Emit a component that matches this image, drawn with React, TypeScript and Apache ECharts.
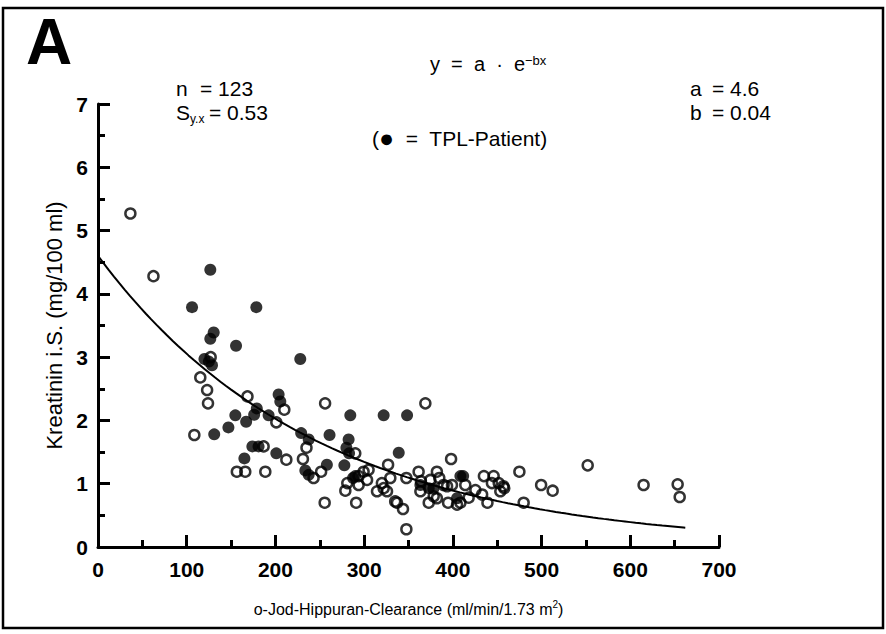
import React, { useEffect, useRef } from "react";
import * as echarts from "echarts";

const X_MIN = 0;
const X_MAX = 700;
const X_STEP = 100;
const Y_MIN = 0;
const Y_MAX = 7;
const Y_STEP = 1;

const FIT_A = 4.6;
const FIT_B = 0.0041;
const FIT_X_END = 662;

const filledX = [106, 178.5, 126.6, 130.4, 126.6, 155.6, 228, 120, 128.5, 125,
  203.6, 205.5, 179, 176, 154.8, 192.3, 167, 147, 131, 229,
  237.5, 174, 181, 201, 165, 258, 277.7, 233.7, 237.5, 261,
  284.4, 282.5, 280, 322, 348.4, 339, 290, 287.5, 363.4, 372.8,
  378, 408.5, 411.6, 404.7, 283];
const filledY = [3.79, 3.79, 4.38, 3.39, 3.29, 3.18, 2.97, 2.97, 2.87, 2.93,
  2.41, 2.30, 2.19, 2.09, 2.08, 2.08, 1.98, 1.89, 1.78, 1.80,
  1.70, 1.59, 1.59, 1.48, 1.40, 1.30, 1.29, 1.21, 1.14, 1.77,
  2.08, 1.70, 1.57, 2.08, 2.08, 1.49, 1.12, 1.09, 0.98, 0.93,
  0.92, 1.12, 1.12, 0.77, 1.48];

const openX = [36.5, 62.5, 115.3, 123, 124, 108.6, 127, 168.5, 210, 201,
  186.7, 212.3, 156.5, 166, 188.6, 256, 235, 231, 243, 251.5,
  255.5, 290, 278.8, 281, 291, 293.8, 299.4, 305, 293.8, 303.3,
  314.5, 320, 325.8, 329.5, 327, 337, 343.8, 347.6, 347.6, 361.4,
  363.4, 372.8, 382, 378.4, 389.6, 394.6, 399, 408.5, 414, 369,
  398, 374.6, 384.7, 393.5, 417.8, 425.4, 433, 439, 435, 446,
  444, 451.7, 457, 453.5, 458, 475, 499.5, 512.5, 479.8, 552,
  615, 653.4, 655.7, 404.7, 382, 335, 364, 322];
const openY = [5.27, 4.28, 2.68, 2.48, 2.27, 1.77, 3.0, 2.38, 2.17, 1.97,
  1.59, 1.38, 1.19, 1.19, 1.19, 2.27, 1.57, 1.39, 1.09, 1.19,
  0.70, 1.48, 0.89, 1.01, 0.70, 1.12, 1.19, 1.22, 0.98, 1.06,
  0.88, 1.01, 0.88, 1.09, 1.30, 0.70, 0.60, 0.28, 1.09, 1.19,
  0.88, 0.70, 1.19, 0.80, 0.98, 0.70, 0.98, 0.70, 0.98, 2.27,
  1.39, 1.06, 1.09, 0.96, 0.78, 0.90, 0.83, 0.70, 1.12, 1.12,
  1.01, 1.01, 0.96, 0.88, 0.93, 1.19, 0.98, 0.89, 0.70, 1.29,
  0.98, 0.99, 0.79, 0.67, 0.77, 0.72, 1.04, 0.93];

const FONT = "'Liberation Sans', Arial, Helvetica, sans-serif";

export default function App() {
  const ref = useRef<HTMLDivElement>(null);

  useEffect(() => {
    if (!ref.current) return;
    const chart = echarts.init(ref.current, undefined, { renderer: "svg" });

    const fit: number[][] = [];
    for (let x = 0; x <= FIT_X_END; x += 6) fit.push([x, FIT_A * Math.exp(-FIT_B * x)]);
    fit.push([FIT_X_END, FIT_A * Math.exp(-FIT_B * FIT_X_END)]);

    const mkLabel = (margin: number) => ({
      color: "#000",
      fontFamily: FONT,
      fontWeight: "bold",
      fontSize: 21,
      margin,
    });
    const mkLine = () => ({ show: true, onZero: false, lineStyle: { color: "#000", width: 3 } });
    const mkTick = () => ({ show: true, inside: true, length: 12, lineStyle: { color: "#000", width: 3 } });
    const mkMinor = () => ({ show: true, splitNumber: 2, length: 7, lineStyle: { color: "#000", width: 3 } });

    const txt = (x: number, y: number, text: string, size: number, bold = false) => ({
      type: "text",
      x,
      y,
      style: {
        text,
        fill: "#000",
        font: `${bold ? "bold " : ""}${size}px ${FONT}`,
        textVerticalAlign: "middle",
        textAlign: "left",
      },
    });

    chart.setOption({
      animation: false,
      backgroundColor: "#fff",
      grid: { left: 98, right: 167, top: 104, bottom: 87, containLabel: false },
      xAxis: {
        type: "value",
        min: X_MIN,
        max: X_MAX,
        interval: X_STEP,
        axisLine: mkLine(),
        axisTick: mkTick(),
        minorTick: mkMinor(),
        splitLine: { show: false },
        axisLabel: mkLabel(12),
        name: "o-Jod-Hippuran-Clearance (ml/min/1.73 m{sup|2})",
        nameLocation: "middle",
        nameGap: 62,
        nameTextStyle: {
          color: "#000",
          fontFamily: FONT,
          fontSize: 16,
          lineHeight: 20,
          verticalAlign: "middle",
          rich: { sup: { fontSize: 10, fontFamily: FONT, color: "#000", lineHeight: 10, verticalAlign: "top" } },
        },
      },
      yAxis: {
        type: "value",
        min: Y_MIN,
        max: Y_MAX,
        interval: Y_STEP,
        axisLine: mkLine(),
        axisTick: mkTick(),
        minorTick: mkMinor(),
        splitLine: { show: false },
        axisLabel: mkLabel(10),
        name: "Kreatinin i.S. (mg/100 ml)",
        nameLocation: "middle",
        nameRotate: 90,
        nameGap: 27,
        nameTextStyle: { color: "#000", fontFamily: FONT, fontSize: 22 },
      },
      series: [
        {
          type: "line",
          data: fit,
          showSymbol: false,
          smooth: false,
          lineStyle: { color: "#000", width: 2 },
          z: 1,
        },
        {
          type: "scatter",
          data: openX.map((x, i) => [x, openY[i]]),
          symbol: "circle",
          symbolSize: 10,
          itemStyle: { color: "rgba(255,255,255,0)", borderColor: "#000", borderWidth: 2.5 },
          z: 2,
        },
        {
          type: "scatter",
          data: filledX.map((x, i) => [x, filledY[i]]),
          symbol: "circle",
          symbolSize: 12,
          itemStyle: { color: "#000" },
          z: 3,
        },
      ],
      graphic: [
        {
          type: "rect",
          shape: { x: 3, y: 8, width: 880, height: 620 },
          style: { fill: "none", stroke: "#000", lineWidth: 2.5 },
          silent: true,
        },
        txt(26, 42, "A", 64, true),
        {
          type: "text",
          x: 430,
          y: 64,
          style: {
            text: "y  =  a  ·  e{sup|−bx}",
            fill: "#000",
            font: `20px ${FONT}`,
            textVerticalAlign: "middle",
            rich: { sup: { fontSize: 13, fontFamily: FONT, fill: "#000", verticalAlign: "top", lineHeight: 12 } },
          },
        },
        txt(176, 88, "n", 21),
        txt(200, 88, "= 123", 21),
        txt(176, 112, "S", 21),
        txt(190, 119, "y.x", 12),
        txt(209, 112, "= 0.53", 21),
        {
          type: "text",
          x: 372,
          y: 138,
          style: {
            text: "({dot|●}  =  TPL-Patient)",
            fill: "#000",
            font: `21px ${FONT}`,
            textVerticalAlign: "middle",
            rich: { dot: { fontSize: 25, fontFamily: FONT, fill: "#000" } },
          },
        },
        txt(690, 88, "a", 21),
        txt(712, 88, "= 4.6", 21),
        txt(690, 112, "b", 21),
        txt(712, 112, "= 0.04", 21),
      ],
    });

    return () => chart.dispose();
  }, []);

  return (
    <div
      ref={ref}
      style={{ position: "fixed", left: 0, top: 0, width: 886, height: 634, background: "#fff" }}
    />
  );
}
